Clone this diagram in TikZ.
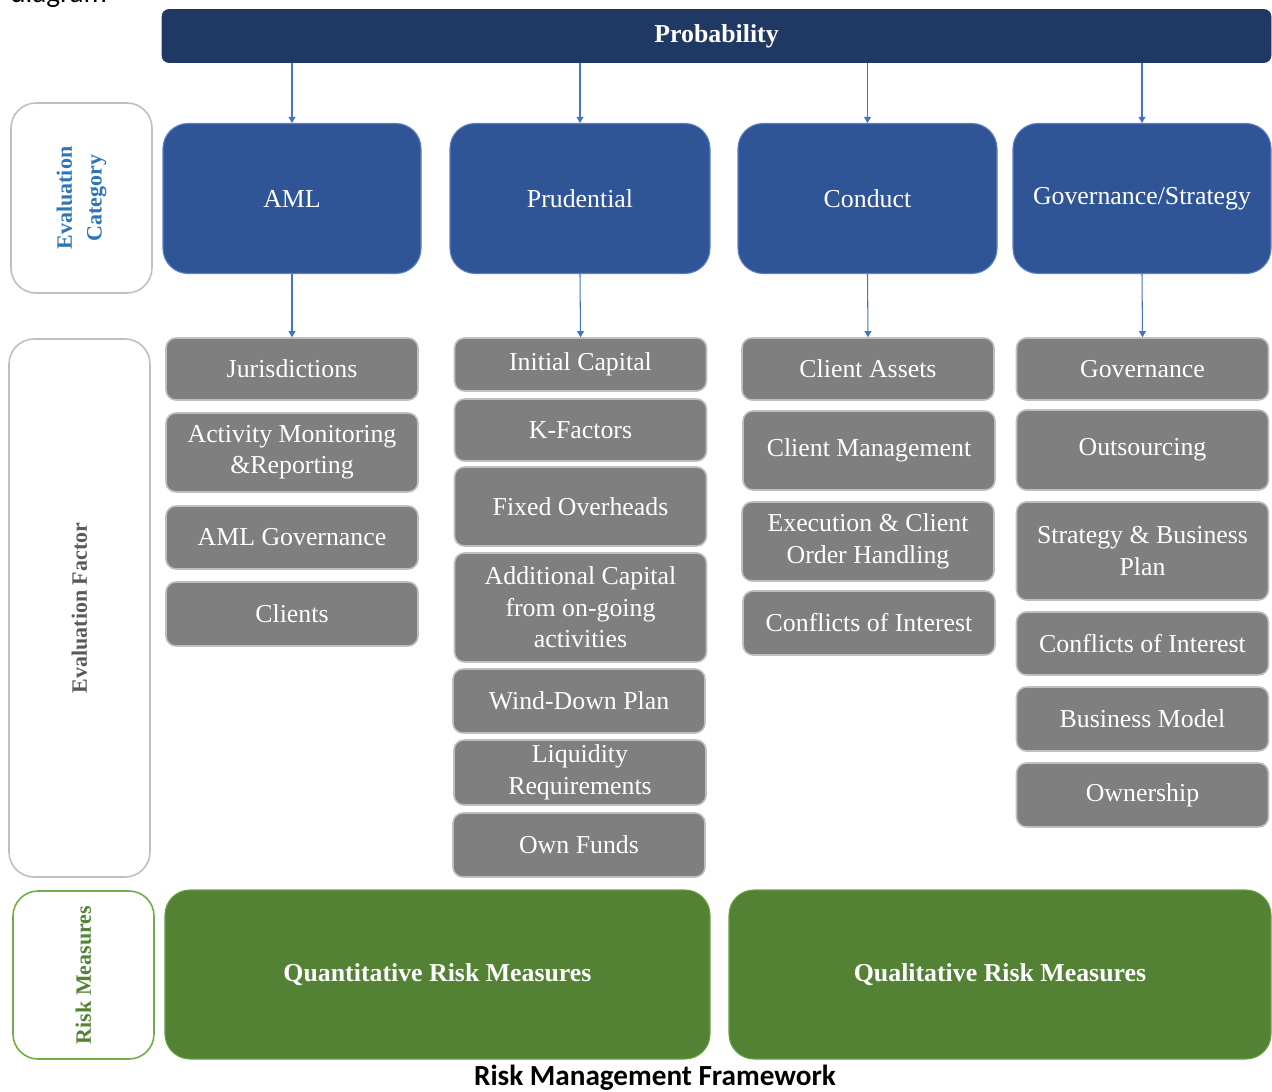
\documentclass[tikz,border=0pt]{standalone}
\usepackage{fontspec}
\setmainfont{Liberation Serif}
\newfontfamily\capfont{Carlito}
\usetikzlibrary{arrows.meta,positioning}
\definecolor{probblue}{HTML}{203864}
\definecolor{catblue}{HTML}{2F5597}
\definecolor{catline}{HTML}{5B80C8}
\definecolor{arrblue}{HTML}{4472C4}
\definecolor{factgray}{HTML}{7F7F7F}
\definecolor{factline}{HTML}{BFBFBF}
\definecolor{riskgreen}{HTML}{548235}
\definecolor{riskline}{HTML}{70AD47}
\definecolor{labblue}{HTML}{2E75B6}
\definecolor{labgray}{HTML}{595959}
\newcommand{\px}{0.02cm}
\newcommand{\boxfont}{\fontsize{14.7}{17.9}\selectfont}

\begin{document}
\begin{tikzpicture}[x=0.02cm,y=-0.02cm,
    cat/.style={fill=catblue,draw=catline,line width=0.6pt,rounded corners=0.5cm,text=white,font=\boxfont,align=center},
    factor/.style={fill=factgray,draw=factline,line width=0.9pt,rounded corners=0.2cm,text=white,font=\boxfont,align=center,inner sep=0pt},
    risk/.style={fill=riskgreen,draw=riskline!70!riskgreen,line width=0.6pt,rounded corners=0.5cm,text=white,font=\boxfont\bfseries},
    side/.style={draw=factline,line width=0.9pt,rounded corners=0.5cm,fill=white,font=\fontsize{12.5}{17}\selectfont\bfseries,align=center,rotate=90},
    link/.style={draw=arrblue,line width=0.6pt,-{Triangle[length=3.5pt,width=4pt]}}]
  \useasboundingbox (0,0) rectangle (1272,1092);
  \clip (0,0) rectangle (1272,1092);

  \node[anchor=base west,inner sep=0pt,font=\fontsize{16.6}{20}\selectfont\capfont] (note) at (10,3) {diagram};

  % top bar
  \node[fill=probblue,draw=probblue,rounded corners=0.14cm,text=white,font=\boxfont\bfseries,
    minimum width=1109*\px,minimum height=53*\px] (P) at (716.5,36) {Probability};

  % side labels
  \node[side,text=labblue,minimum width=190*\px,minimum height=141*\px] (SC) at (81.5,198) {Evaluation\\Category};
  \node[side,text=labgray,minimum width=538*\px,minimum height=141*\px] (SF) at (79.5,608) {Evaluation Factor};
  \node[side,draw=riskline,text=riskgreen,minimum width=168*\px,minimum height=141*\px] (SR) at (83.5,975) {Risk Measures};

  % evaluation categories
  \foreach \n/\x/\w/\t in {1/292/258/AML,2/580/260/Prudential,3/867.5/259/Conduct,4/1142/258/{Governance/Strategy}} {
    \node[cat,minimum width=\w*\px,minimum height=150*\px] (C\n) at (\x,198.5) {\t};
    \draw[link] (P.south -| C\n.north) -- (C\n.north);
  }

  % evaluation factors
  \foreach \nm/\x/\ya/\yb/\t in {
      aml1/292/338/400/Jurisdictions,
      aml2/292/413/492/{Activity Monitoring\\\&Reporting},
      aml3/292/506/569/AML Governance,
      aml4/292/582/646/Clients,
      pru1/580.5/338/391/Initial Capital,
      pru2/580.5/399/461/K-Factors,
      pru3/580.5/467/546/Fixed Overheads,
      pru4/580.5/553/662/{Additional Capital\\from on-going\\activities},
      pru5/579/669/733/Wind-Down Plan,
      pru6/580/740/805/{Liquidity\\Requirements},
      pru7/579/813/877/Own Funds,
      con1/868/338/400/Client Assets,
      con2/869/411/490/Client Management,
      con3/868/502/581/{Execution \& Client\\Order Handling},
      con4/869/591/655/Conflicts of Interest,
      gov1/1142.5/338/400/Governance,
      gov2/1142.5/410/490/Outsourcing,
      gov3/1142.5/502/600/{Strategy \& Business\\Plan},
      gov4/1142.5/612/675/Conflicts of Interest,
      gov5/1142.5/687/751/Business Model,
      gov6/1142.5/763/827/Ownership} {
    \node[factor,minimum width=252*\px,minimum height={(\yb-\ya)*\px}] (\nm) at (\x,{(\ya+\yb)/2}) {\t};
  }
  \draw[link] (C1.south) -- (aml1.north);
  \draw[link] (C2.south) -- (pru1.north);
  \draw[link] (C3.south) -- (con1.north);
  \draw[link] (C4.south) -- (gov1.north);

  % risk measures
  \node[risk,minimum width=545*\px,minimum height=169*\px] (QN) at (437.5,974.5) {Quantitative Risk Measures};
  \node[risk,minimum width=542*\px,minimum height=169*\px] (QL) at (1000,974.5) {Qualitative Risk Measures};

  \node[anchor=base,inner sep=0pt,font=\fontsize{16.6}{20}\selectfont\capfont\bfseries] (cap) at (655,1085) {Risk Management Framework};
\end{tikzpicture}
\end{document}
